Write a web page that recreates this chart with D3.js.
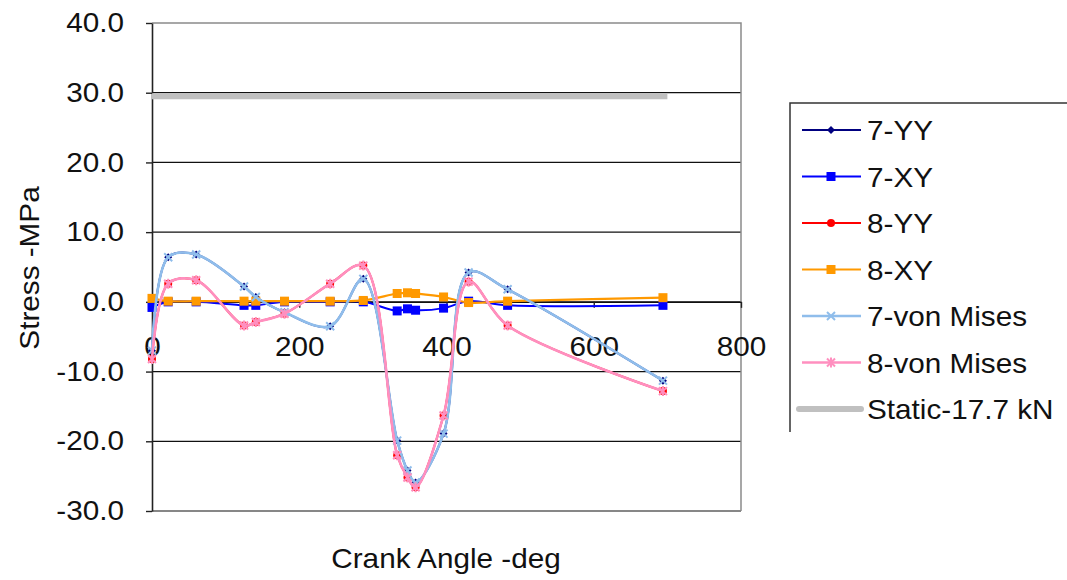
<!DOCTYPE html>
<html>
<head>
<meta charset="utf-8">
<script src="https://cdn.jsdelivr.net/npm/d3@7"></script>
<style>
  html, body { margin: 0; padding: 0; background: #fff; }
  svg { display: block; font-family: "Liberation Sans", Arial, sans-serif; }
</style>
</head>
<body>
<svg id="chart" width="1067" height="580"></svg>
<script>
// Crank angle (deg) at which stresses were sampled
const angles = [0, 22, 60, 125, 141, 180, 242, 287, 333, 347, 358, 396, 430, 483, 694];

// Stress values (MPa) per gauge location
const s7YY  = [-7.0, 6.4, 6.8, 2.2, 0.7, -1.5, -3.5, 3.3, -19.9, -24.2, -25.9, -18.9, 4.2, 1.8, -11.3];
const s7XY  = [-0.8, 0.0, 0.0, -0.5, -0.5, 0.0, 0.0, 0.0, -1.3, -1.0, -1.2, -0.9, 0.1, -0.5, -0.5];
const s8YY  = [-8.2, 2.6, 3.1, -3.4, -2.9, -1.7, 2.6, 5.2, -22.0, -25.2, -26.6, -16.3, 2.9, -3.4, -12.8];
const s8XY  = [0.5, 0.1, 0.1, 0.1, 0.1, 0.1, 0.1, 0.2, 1.2, 1.3, 1.2, 0.7, -0.1, 0.1, 0.6];
const s7VM  = [-7.0, 6.4, 6.8, 2.2, 0.7, -1.5, -3.5, 3.3, -19.9, -24.2, -25.9, -18.9, 4.2, 1.8, -11.3];
const s8VM  = [-8.2, 2.6, 3.1, -3.4, -2.9, -1.7, 2.6, 5.2, -22.0, -25.2, -26.6, -16.3, 2.9, -3.4, -12.8];

// Static load reference line
const staticAngles = [0, 700];
const staticStress = [29.5, 29.5];

const seriesNames = ["7-YY", "7-XY", "8-YY", "8-XY", "7-von Mises", "8-von Mises", "Static-17.7 kN"];
const xTicks = [0, 200, 400, 600, 800];
const yTicks = [-30, -20, -10, 0, 10, 20, 30, 40];

const series = [
  { name: seriesNames[0], values: s7YY, color: "#000080", marker: "diamond", width: 2 },
  { name: seriesNames[1], values: s7XY, color: "#0000FF", marker: "square",  width: 2 },
  { name: seriesNames[2], values: s8YY, color: "#FF0000", marker: "circle",  width: 2 },
  { name: seriesNames[3], values: s8XY, color: "#FF9900", marker: "square",  width: 2.2 },
  { name: seriesNames[4], values: s7VM, color: "#8FBDEB", marker: "cross",   width: 2.6 },
  { name: seriesNames[5], values: s8VM, color: "#FF8FBF", marker: "star",    width: 2.6 }
];

const svg = d3.select("#chart");
const X0 = 152, X1 = 741, Y0 = 23, Y1 = 511;
const x = d3.scaleLinear().domain([0, 800]).range([X0, X1]);
const y = d3.scaleLinear().domain([-30, 40]).range([Y1, Y0]);
const FS = 27, SX = 1.1;

// Horizontal gridlines
svg.append("g").selectAll("line")
  .data(yTicks.filter(v => v < 40))
  .join("line")
  .attr("x1", X0).attr("x2", X1)
  .attr("y1", d => y(d)).attr("y2", d => y(d))
  .attr("stroke", "#111").attr("stroke-width", 1.2);

// Plot border (top and right)
svg.append("path")
  .attr("d", `M${X0},${Y0}H${X1}V${Y1}`)
  .attr("fill", "none").attr("stroke", "#8a8a8a").attr("stroke-width", 1.5);

// Y axis
const yAxis = svg.append("g")
  .attr("transform", `translate(${X0},0)`)
  .call(d3.axisLeft(y).tickValues(yTicks).tickSize(6).tickSizeOuter(0)
        .tickPadding(22).tickFormat(d => d.toFixed(1)));
yAxis.select(".domain").attr("stroke", "#222").attr("stroke-width", 1.6);
yAxis.selectAll(".tick line").attr("stroke", "#222").attr("stroke-width", 1.4);
yAxis.selectAll(".tick text")
  .attr("font-size", FS).attr("fill", "#111")
  .attr("font-family", "Liberation Sans, Arial, sans-serif")
  .attr("x", -28 / SX)
  .attr("transform", `scale(${SX},1)`);

// X axis crossing at zero stress
const xAxis = svg.append("g")
  .attr("transform", `translate(0,${y(0)})`)
  .call(d3.axisBottom(x).tickValues(xTicks).tickSize(6).tickSizeOuter(0)
        .tickPadding(29).tickFormat(d => String(d)));
xAxis.select(".domain").attr("stroke", "#111").attr("stroke-width", 1.4);
xAxis.selectAll(".tick line").attr("stroke", "#222").attr("stroke-width", 1.4);
xAxis.selectAll(".tick text")
  .attr("font-size", FS).attr("fill", "#111")
  .attr("font-family", "Liberation Sans, Arial, sans-serif")
  .attr("transform", `scale(${SX},1)`);

// Axis titles
svg.append("text")
  .attr("transform", `translate(446,568) scale(${SX},1)`)
  .attr("text-anchor", "middle").attr("font-size", FS).attr("fill", "#111")
  .text("Crank Angle -deg");
svg.append("text")
  .attr("transform", `translate(39,268) rotate(-90) scale(${SX},1)`)
  .attr("text-anchor", "middle").attr("font-size", FS).attr("fill", "#111")
  .text("Stress -MPa");

// Marker drawing
function drawMarker(g, type, color, cx, cy) {
  if (type === "diamond") {
    g.append("path").attr("d", `M${cx},${cy-4}L${cx+4},${cy}L${cx},${cy+4}L${cx-4},${cy}Z`)
      .attr("fill", color);
  } else if (type === "square") {
    g.append("rect").attr("x", cx - 4.5).attr("y", cy - 4.5).attr("width", 9).attr("height", 9)
      .attr("fill", color);
  } else if (type === "circle") {
    g.append("circle").attr("cx", cx).attr("cy", cy).attr("r", 4).attr("fill", color);
  } else if (type === "cross") {
    g.append("path").attr("d", `M${cx-4},${cy-4}L${cx+4},${cy+4}M${cx-4},${cy+4}L${cx+4},${cy-4}`)
      .attr("stroke", color).attr("stroke-width", 2).attr("fill", "none");
  } else if (type === "star") {
    g.append("path").attr("d",
      `M${cx-4},${cy-4}L${cx+4},${cy+4}M${cx-4},${cy+4}L${cx+4},${cy-4}M${cx},${cy-5}V${cy+5}`)
      .attr("stroke", color).attr("stroke-width", 2).attr("fill", "none");
  }
}

const line = d3.line()
  .x(d => x(d[0])).y(d => y(d[1]))
  .curve(d3.curveCatmullRom.alpha(0.5));

const plot = svg.append("g");
series.forEach(s => {
  const pts = angles.map((a, i) => [a, s.values[i]]);
  const g = plot.append("g");
  g.append("path").datum(pts).attr("d", line)
    .attr("fill", "none").attr("stroke", s.color).attr("stroke-width", s.width);
  pts.forEach(p => drawMarker(g, s.marker, s.color, x(p[0]), y(p[1])));
});

// Static load line
plot.append("path")
  .datum(staticAngles.map((a, i) => [a, staticStress[i]]))
  .attr("d", d3.line().x(d => x(d[0])).y(d => y(d[1])))
  .attr("stroke", "#C0C0C0").attr("stroke-width", 6).attr("fill", "none");

// Legend
const legend = svg.append("g");
legend.append("path").attr("d", "M1067,103H790V432")
  .attr("fill", "none").attr("stroke", "#333").attr("stroke-width", 1.5);
const rowY = d => 130 + d * 46.5;
const legendItems = series.concat([{ name: seriesNames[6], color: "#C0C0C0", marker: null, width: 6 }]);
legendItems.forEach((s, i) => {
  const cy = rowY(i);
  const g = legend.append("g");
  g.append("line").attr("x1", s.marker ? 802 : 799).attr("x2", 861).attr("y1", cy).attr("y2", cy)
    .attr("stroke", s.color).attr("stroke-width", s.marker ? s.width : 6)
    .attr("stroke-linecap", s.marker ? "butt" : "round");
  if (s.marker) drawMarker(g, s.marker, s.color, 831, cy);
  g.append("text")
    .attr("transform", `translate(867,${cy + 10}) scale(${SX},1)`)
    .attr("font-size", FS).attr("fill", "#111")
    .text(s.name);
});
</script>
</body>
</html>
